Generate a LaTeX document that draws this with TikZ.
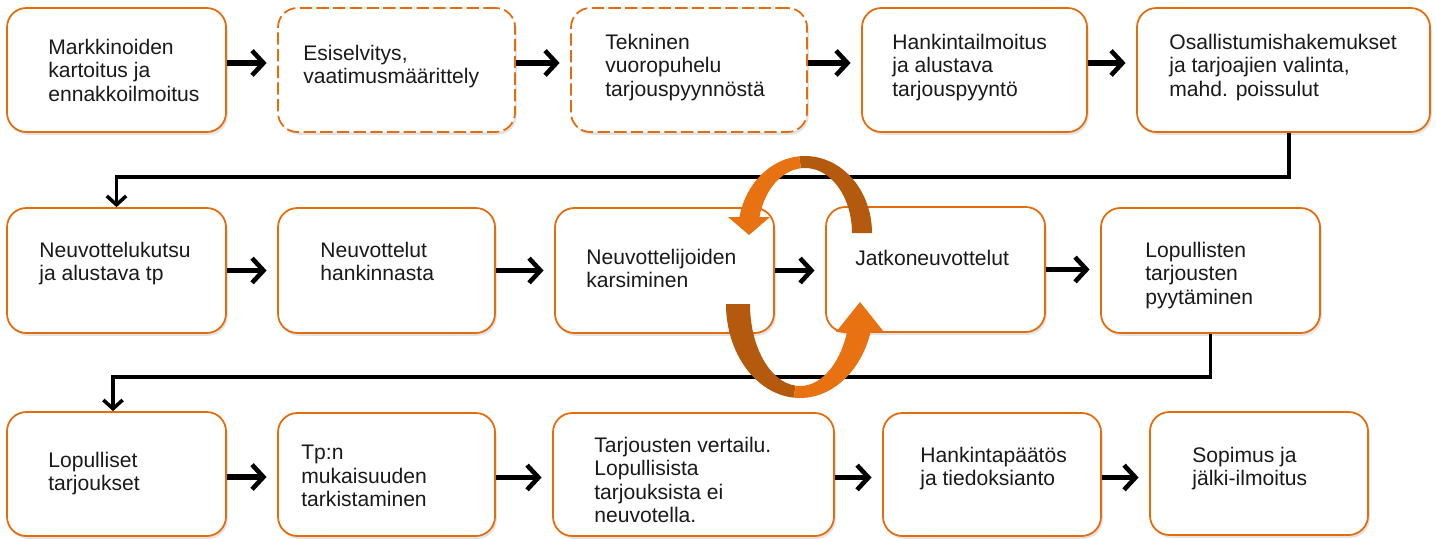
\documentclass[tikz,border=0pt]{standalone}
\usepackage{fontspec}
\setmainfont{Liberation Sans}
\usetikzlibrary{arrows.meta, positioning, fit, shadows}
\definecolor{corange}{HTML}{E46C0A}
\definecolor{cdark}{HTML}{B45A0F}
\definecolor{cbright}{HTML}{E87112}
\definecolor{ctext}{HTML}{1A1A1A}

\begin{document}
\begin{tikzpicture}[x=0.02cm, y=-0.02cm,
  stepbox/.style={draw=corange, line width=1pt, fill=white, rounded corners=11pt, inner sep=0pt,
    drop shadow={shadow xshift=1pt, shadow yshift=-1.6pt, opacity=0.22}},
  dashbox/.style={stepbox, dash pattern=on 7pt off 2.5pt},
  steptext/.style={anchor=north west, inner sep=0pt, align=left, text=ctext,
    font=\fontsize{12pt}{13.2pt}\selectfont},
  flow/.style={-{Straight Barb[length=6.5pt, width=14pt, line width=2.6pt]}, line width=3pt, shorten >=6pt},
  elbow/.style={-{Straight Barb[length=5pt, width=11pt, line width=2pt]}, line width=2.2pt}]
  \useasboundingbox (0,0) rectangle (1436,538);
  % first row
  \node[stepbox, fit={(7,8) (226,132)}] (b1) {};
  \node[dashbox, fit={(278,8) (515,132)}] (b2) {};
  \node[dashbox, fit={(571,8) (807,132)}] (b3) {};
  \node[stepbox, fit={(862,8) (1087,132)}] (b4) {};
  \node[stepbox, fit={(1137,8) (1430,132)}] (b5) {};
  \node[steptext] (t1) at (48,39) {Markkinoiden\\kartoitus ja\\ennakkoilmoitus};
  \node[steptext] (t2) at (303,45) {Esiselvitys,\\vaatimusmäärittely};
  \node[steptext] (t3) at (605,34) {Tekninen\\vuoropuhelu\\tarjouspyynnöstä};
  \node[steptext] (t4) at (892,34) {Hankintailmoitus\\ja alustava\\tarjouspyyntö};
  \node[steptext] (t5) at (1169,34) {Osallistumishakemukset\\ja tarjoajien valinta,\\mahd. poissulut};
  % second row
  \node[stepbox, fit={(7,208) (226,333)}] (b6) {};
  \node[stepbox, fit={(278,208) (495,333)}] (b7) {};
  \node[stepbox, fit={(555,208) (774,333)}] (b8) {};
  \node[stepbox, fit={(826,207) (1045,332)}] (b9) {};
  \node[stepbox, fit={(1101,208) (1320,333)}] (b10) {};
  \node[steptext] (t6) at (39,242) {Neuvottelukutsu\\ja alustava tp};
  \node[steptext] (t7) at (320,242) {Neuvottelut\\hankinnasta};
  \node[steptext] (t8) at (586,249) {Neuvottelijoiden\\karsiminen};
  \node[steptext] (t9) at (855,250) {Jatkoneuvottelut};
  \node[steptext] (t10) at (1145,242) {Lopullisten\\tarjousten\\pyytäminen};
  % third row
  \node[stepbox, fit={(7,412) (226,536)}] (b11) {};
  \node[stepbox, fit={(278,413) (495,536)}] (b12) {};
  \node[stepbox, fit={(553,413) (834,536)}] (b13) {};
  \node[stepbox, fit={(883,413) (1101,536)}] (b14) {};
  \node[stepbox, fit={(1150,412) (1368,535)}] (b15) {};
  \node[steptext] (t11) at (48,452) {Lopulliset\\tarjoukset};
  \node[steptext] (t12) at (301,445) {Tp:n\\mukaisuuden\\tarkistaminen};
  \node[steptext] (t13) at (594,437) {Tarjousten vertailu.\\Lopullisista\\tarjouksista ei\\neuvotella.};
  \node[steptext] (t14) at (920,447) {Hankintapäätös\\ja tiedoksianto};
  \node[steptext] (t15) at (1192,447) {Sopimus ja\\jälki-ilmoitus};
  % arrows
  \foreach \a/\b in {b1/b2, b2/b3, b3/b4, b4/b5}
    \draw[flow] ([yshift=4pt]\a.east) -- ([yshift=4pt]\a.east -| \b.west);
  \foreach \a/\b in {b6/b7, b7/b8, b8/b9, b9/b10}
    \draw[flow] (\a.east) -- (\a.east -| \b.west);
  \foreach \a/\b in {b11/b12, b12/b13, b13/b14, b14/b15}
    \draw[flow] ([yshift=-1.7pt]\a.east) -- ([yshift=-1.7pt]\a.east -| \b.west);
  \draw[elbow] ([xshift=3pt]b5.south) -- ++(0,44) -| (b6.north);
  \draw[elbow] (b10.south) -- ++(0,43) -| ([xshift=-2pt]b11.north);
  % negotiation loop
  \fill[cdark] ([shift={(0:67 and 77)}]805,233) arc[start angle=0, end angle=-95, x radius=67, y radius=77]
    -- ([shift={(-95:47 and 65)}]805,233) arc[start angle=-95, end angle=0, x radius=47, y radius=65] -- cycle;
  \fill[cbright] ([shift={(-95:67 and 77)}]805,233) arc[start angle=-95, end angle=-168, x radius=67, y radius=77]
    -- ([shift={(-165.7:47 and 65)}]805,233) arc[start angle=-165.7, end angle=-95, x radius=47, y radius=65] -- cycle;
  \fill[cbright] (728,217) -- (770,217) -- (749,235) -- cycle;
  \fill[cdark] ([shift={(180:74 and 94)}]800,304) arc[start angle=180, end angle=95, x radius=74, y radius=94]
    -- ([shift={(95:50 and 82)}]800,304) arc[start angle=95, end angle=180, x radius=50, y radius=82] -- cycle;
  \fill[cbright] ([shift={(95:74 and 94)}]800,304) arc[start angle=95, end angle=17.3, x radius=74, y radius=94]
    -- ([shift={(20:50 and 82)}]800,304) arc[start angle=20, end angle=95, x radius=50, y radius=82] -- cycle;
  \fill[cbright] (836,332) -- (884,332) -- (860,302) -- cycle;
\end{tikzpicture}
\end{document}
